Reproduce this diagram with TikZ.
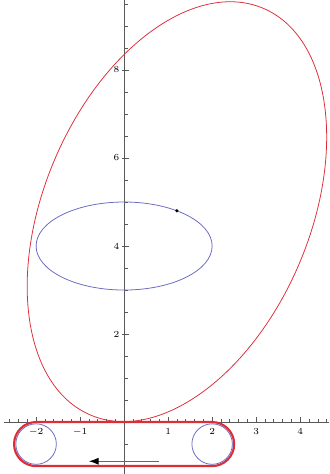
\documentclass[tikz,border=0pt]{standalone}
\usepackage{tikz}
\usetikzlibrary{arrows.meta}

\definecolor{curvered}{RGB}{222,45,55}
\definecolor{orbitblue}{RGB}{105,105,195}

\begin{document}
\begin{tikzpicture}[>=Latex,
  axisline/.style={draw=black!65, line width=0.5pt},
  tickmark/.style={draw=black!65, line width=0.35pt},
  ticklabel/.style={font=\fontsize{6}{7}\selectfont, inner sep=1pt}]
  \useasboundingbox (-2.82,-1.18) rectangle (4.66,9.59);

  % axes with ticks
  \draw[axisline] (-2.72,0) -- (4.66,0);
  \draw[axisline] (0,-1.18) -- (0,9.59);
  \foreach \x in {-2.6,-2.4,...,4.61}
    \draw[tickmark] (\x,0) -- (\x,0.06);
  \foreach \x in {-2,...,4}
    \draw[tickmark] (\x,0) -- (\x,0.11);
  \foreach \y in {-1,-0.5,...,9.51}
    \draw[tickmark] (0,\y) -- (0.08,\y);
  \foreach \y in {2,4,6,8}
    \draw[tickmark] (-0.05,\y) -- (0.11,\y);

  \foreach \x in {-2,-1,1,2,3,4}
    \node[ticklabel, anchor=north] (xlab\x) at (\x,-0.1) {$\x$};
  \foreach \y in {2,4,6,8}
    \node[ticklabel, anchor=east] (ylab\y) at (-0.07,\y) {$\y$};

  % curves
  \draw[curvered, line width=0.5pt, rotate around={67:(1.2,4.78)}] (1.2,4.78) ellipse (5.02 and 3.02);
  \draw[orbitblue, line width=0.5pt] (0,4) ellipse (2 and 1);
  \fill[black] (1.2,4.8) circle (0.04);

  % belt with pulleys
  \draw[curvered, line width=1.4pt] (-2,0) -- (2,0) arc (90:-90:0.5) -- (-2,-1) arc (270:90:0.5) -- cycle;
  \draw[orbitblue, line width=0.5pt] (-2,-0.5) circle (0.46);
  \draw[orbitblue, line width=0.5pt] (2,-0.5) circle (0.46);

  \coordinate (beltstart) at (0.8,-0.89);
  \coordinate (beltend) at (-0.8,-0.89);
  \draw[black!60, line width=0.6pt, -{Latex[black,length=2.2mm,width=1.6mm]}] (beltstart) -- (beltend);
\end{tikzpicture}
\end{document}
